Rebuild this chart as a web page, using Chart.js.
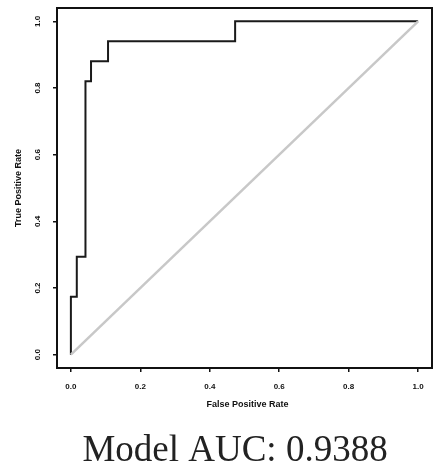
<!DOCTYPE html>
<html><head><meta charset="utf-8">
<script src="https://cdn.jsdelivr.net/npm/chart.js@4.4.1/dist/chart.umd.min.js"></script>
<style>html,body{margin:0;padding:0;background:#fff;}#wrap{width:437px;height:470px;}</style>
</head><body><div id="wrap"><canvas id="c" width="437" height="470"></canvas></div>
<script>
const fpr = [0, 0, 0.017, 0.017, 0.042, 0.042, 0.058, 0.058, 0.107, 0.107, 0.473, 0.473, 1];
const tpr = [0, 0.174, 0.174, 0.294, 0.294, 0.82, 0.82, 0.88, 0.88, 0.94, 0.94, 1, 1];
const diagX = [0, 1];
const diagY = [0, 1];
const tickValues = [0, 0.2, 0.4, 0.6, 0.8, 1.0];
const tickLabels = ["0.0", "0.2", "0.4", "0.6", "0.8", "1.0"];
const xTitle = "False Positive Rate";
const yTitle = "True Positive Rate";
const caption = "Model AUC: 0.9388";

const textPlugin = {
  id: 'texts',
  afterDraw(chart) {
    const ctx = chart.ctx, a = chart.chartArea;
    const xs = chart.scales.x, ys = chart.scales.y;
    ctx.save();
    ctx.strokeStyle = '#111';
    ctx.lineWidth = 2;
    ctx.strokeRect(a.left, a.top, a.right - a.left, a.bottom - a.top);
    ctx.fillStyle = '#111';
    ctx.font = 'bold 8px "Liberation Sans"';
    ctx.textAlign = 'center'; ctx.textBaseline = 'middle';
    tickValues.forEach((v, i) => {
      ctx.fillText(tickLabels[i], xs.getPixelForValue(v), 387);
      ctx.save();
      ctx.translate(38, ys.getPixelForValue(v));
      ctx.rotate(-Math.PI / 2);
      ctx.fillText(tickLabels[i], 0, 0);
      ctx.restore();
    });
    ctx.font = 'bold 9px "Liberation Sans"';
    ctx.fillText(xTitle, (a.left + a.right) / 2 + 3, 405);
    ctx.save();
    ctx.translate(19, (a.top + a.bottom) / 2);
    ctx.rotate(-Math.PI / 2);
    ctx.fillText(yTitle, 0, 0);
    ctx.restore();
    ctx.font = '37px "Liberation Serif"';
    ctx.fillStyle = '#222';
    ctx.textBaseline = 'alphabetic';
    ctx.fillText(caption, 235, 461);
    ctx.restore();
  }
};

new Chart(document.getElementById('c'), {
  type: 'line',
  data: {
    datasets: [
      { data: diagX.map((x, i) => ({x, y: diagY[i]})), borderColor: '#c8c8c8', borderWidth: 2.5, pointRadius: 0, fill: false },
      { data: fpr.map((x, i) => ({x, y: tpr[i]})), borderColor: '#1a1a1a', borderWidth: 2, pointRadius: 0, fill: false, tension: 0 }
    ]
  },
  options: {
    responsive: false, animation: false,
    layout: { padding: { top: 8, right: 5, left: 0, bottom: 0 } },
    plugins: { legend: { display: false }, tooltip: { enabled: false }, title: { display: false } },
    scales: {
      x: {
        type: 'linear', min: -0.04, max: 1.04,
        afterBuildTicks: s => { s.ticks = tickValues.map(v => ({value: v})); },
        afterFit: s => { s.height = 102; },
        ticks: { display: false },
        grid: { drawOnChartArea: false, tickLength: 4, color: '#111', lineWidth: 1.5 },
        border: { display: true, color: '#111', width: 2 }
      },
      y: {
        type: 'linear', min: -0.04, max: 1.04,
        afterBuildTicks: s => { s.ticks = tickValues.map(v => ({value: v})); },
        afterFit: s => { s.width = 57; },
        ticks: { display: false },
        grid: { drawOnChartArea: false, tickLength: 4, color: '#111', lineWidth: 1.5 },
        border: { display: true, color: '#111', width: 2 }
      }
    }
  },
  plugins: [textPlugin]
});
</script></body></html>
